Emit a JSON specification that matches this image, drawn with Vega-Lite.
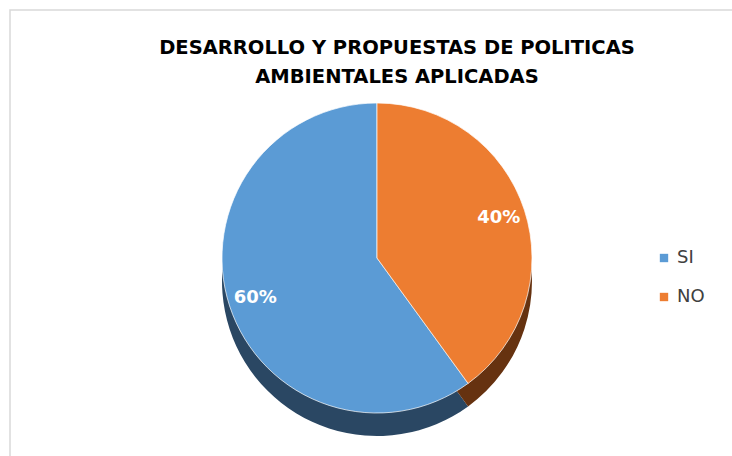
{
  "$schema": "https://vega.github.io/schema/vega-lite/v6.json",
  "width": 732,
  "height": 456,
  "autosize": {"type": "fit", "contains": "padding"},
  "padding": {"left": 10, "top": 10, "right": -4, "bottom": -4},
  "background": "white",
  "view": {"stroke": "#d9d9d9", "strokeWidth": 1.5, "fill": "white"},
  "config": {
    "font": "DejaVu Sans"
  },
  "title": {
    "text": ["DESARROLLO Y PROPUESTAS DE POLITICAS", "AMBIENTALES APLICADAS"],
    "font": "DejaVu Sans",
    "fontSize": 19.5,
    "fontWeight": "bold",
    "color": "#000000",
    "anchor": "middle",
    "frame": "group",
    "offset": -77,
    "lineHeight": 29,
    "dx": 24
  },
  "data": {
    "values": [
      {"respuesta": "SI", "porcentaje": 60, "orden": 2, "etiqueta": "60%"},
      {"respuesta": "NO", "porcentaje": 40, "orden": 1, "etiqueta": "40%"}
    ]
  },
  "encoding": {
    "theta": {"field": "porcentaje", "type": "quantitative", "stack": true},
    "order": {"field": "orden", "type": "quantitative"}
  },
  "layer": [
    {
      "mark": {"type": "arc", "outerRadius": 155, "xOffset": 4, "yOffset": 46},
      "encoding": {
        "color": {
          "field": "respuesta",
          "type": "nominal",
          "scale": {"domain": ["SI", "NO"], "range": ["#2a4763", "#663210"]},
          "legend": null
        }
      }
    },
    {
      "mark": {"type": "arc", "outerRadius": 155, "xOffset": 4, "yOffset": 23, "stroke": "white", "strokeWidth": 0.7},
      "encoding": {
        "color": {
          "field": "respuesta",
          "type": "nominal",
          "scale": {"domain": ["SI", "NO"], "range": ["#5b9bd5", "#ed7d31"]},
          "legend": {
            "title": null,
            "orient": "none",
            "legendX": 645,
            "legendY": 239,
            "symbolType": "square",
            "symbolSize": 70,
            "symbolStrokeWidth": 0,
            "labelFontSize": 18,
            "labelFont": "DejaVu Sans",
            "labelColor": "#404040",
            "rowPadding": 21,
            "labelOffset": 4
          }
        }
      }
    },
    {
      "mark": {"type": "text", "radius": 128, "xOffset": 4, "yOffset": 23, "fontSize": 18, "fontWeight": "bold", "color": "white", "font": "DejaVu Sans"},
      "encoding": {"text": {"field": "etiqueta", "type": "nominal"}}
    }
  ],
  "resolve": {"scale": {"color": "independent"}}
}
